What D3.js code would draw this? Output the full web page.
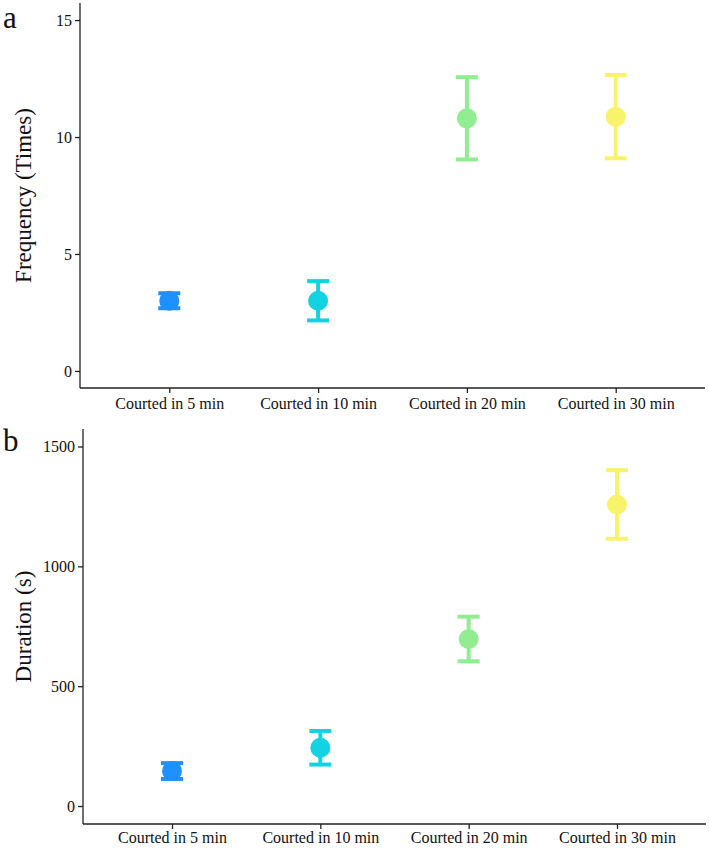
<!DOCTYPE html>
<html>
<head>
<meta charset="utf-8">
<script src="https://cdn.jsdelivr.net/npm/d3@7"></script>
<style>
  body { margin: 0; background: #fff; }
  svg text { font-family: "Liberation Serif", "Times New Roman", serif; fill: #111; }
</style>
</head>
<body>
<svg id="chart" width="709" height="849"></svg>
<script>
const categories = ["Courted in 5 min", "Courted in 10 min", "Courted in 20 min", "Courted in 30 min"];
const colors = ["#1E90FF", "#13D3E3", "#90EE90", "#F7F46C"];

// panel a: courtship frequency
const freqMean = [3.0, 3.0, 10.8, 10.87];
const freqErr = [0.32, 0.84, 1.76, 1.78];
const freqTicks = [0, 5, 10, 15];

// panel b: courtship duration
const durMean = [146, 243, 697, 1258];
const durErr = [33, 70, 93, 143];
const durTicks = [0, 500, 1000, 1500];

const serif = "'Liberation Serif', 'Times New Roman', serif";
const svg = d3.select("#chart");

function drawPanel(opts) {
    const g = svg.append("g");
    const x = d3.scalePoint()
        .domain(categories)
        .range([opts.left, opts.right])
        .padding(0.6);
    const y = d3.scaleLinear()
        .domain(opts.domain)
        .range([opts.bottom, opts.top]);

    // y axis
    const yAxis = g.append("g")
        .attr("transform", `translate(${opts.left},0)`)
        .call(d3.axisLeft(y).tickValues(opts.ticks).tickFormat(d3.format("d"))
            .tickSize(5).tickPadding(3).tickSizeOuter(0));
    yAxis.select(".domain").attr("d", `M0,${opts.bottom}V${opts.top}`);

    // x axis
    const xAxis = g.append("g")
        .attr("transform", `translate(0,${opts.bottom})`)
        .call(d3.axisBottom(x).tickSize(5).tickPadding(opts.xPad).tickSizeOuter(0));
    xAxis.select(".domain").attr("d", `M${opts.left},0H${opts.right}`);

    g.selectAll(".domain, .tick line").attr("stroke", "#222").attr("stroke-width", 1.3);
    yAxis.attr("font-family", serif);
    xAxis.attr("font-family", serif);
    yAxis.selectAll("text").attr("font-size", "16px").attr("fill", "#333").style("font-family", serif);
    xAxis.selectAll("text").attr("font-size", "16px").attr("fill", "#111").style("font-family", serif);

    // y title
    g.append("text")
        .attr("transform", `translate(${opts.titleX},${(opts.top + opts.bottom) / 2}) rotate(-90)`)
        .attr("text-anchor", "middle")
        .attr("font-size", "23px")
        .text(opts.title);

    // panel letter
    g.append("text")
        .attr("x", 3)
        .attr("y", opts.letterY)
        .attr("font-size", "31px")
        .text(opts.letter);

    const pts = categories.map((c, i) => ({ c, m: opts.mean[i], e: opts.err[i], col: colors[i] }));

    const bars = g.selectAll(".eb").data(pts).join("g").attr("class", "eb");
    bars.append("line")
        .attr("x1", d => x(d.c)).attr("x2", d => x(d.c))
        .attr("y1", d => y(d.m - d.e)).attr("y2", d => y(d.m + d.e))
        .attr("stroke", d => d.col).attr("stroke-width", 4);
    [-1, 1].forEach(s => {
        bars.append("line")
            .attr("x1", d => x(d.c) - 11).attr("x2", d => x(d.c) + 11)
            .attr("y1", d => y(d.m + s * d.e)).attr("y2", d => y(d.m + s * d.e))
            .attr("stroke", d => d.col).attr("stroke-width", 4);
    });
    bars.append("circle")
        .attr("cx", d => x(d.c))
        .attr("cy", d => y(d.m))
        .attr("r", 10)
        .attr("fill", d => d.col);
}

drawPanel({
    left: 80, right: 705, top: 3, bottom: 388,
    domain: [-0.73, 15.73], ticks: freqTicks,
    mean: freqMean, err: freqErr, xPad: 5,
    title: "Frequency (Times)", titleX: 31, letter: "a", letterY: 28
});

drawPanel({
    left: 83, right: 706, top: 429, bottom: 824,
    domain: [-75, 1573], ticks: durTicks,
    mean: durMean, err: durErr, xPad: 3,
    title: "Duration (s)", titleX: 31, letter: "b", letterY: 451
});
</script>
</body>
</html>
